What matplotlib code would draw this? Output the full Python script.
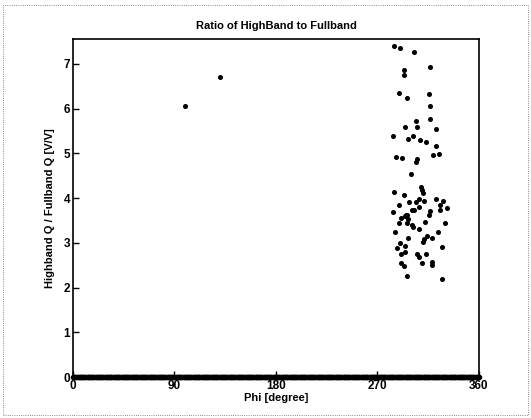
import matplotlib.pyplot as plt
from matplotlib.patches import Rectangle

# points (phi in degree, ratio in V/V)
phi_lone = [99.5, 130.0]
ratio_lone = [6.05, 6.71]

phi_cluster = [
    284.6, 289.9, 302.3, 316.2, 293.4, 293.2, 289.3, 315.3, 295.8, 316.2,
    316.5, 304.4, 294.3, 305.2, 321.8, 283.4, 297.0, 301.7, 307.9, 312.9,
    322.1, 324.5, 318.9, 286.1, 292.0, 305.2, 304.4, 299.4, 308.5, 309.1,
    310.0, 284.3, 293.7, 289.3, 297.6, 304.1, 306.5, 311.2, 322.1, 327.7,
    325.4, 331.8, 306.7, 300.5, 302.0, 316.5, 315.3, 325.6, 283.7, 295.2,
    291.0, 296.7, 294.6, 295.8, 289.3, 296.4, 300.3, 301.2, 307.0, 312.3,
    329.8, 285.5, 296.7, 311.2, 313.6, 310.6, 318.0, 323.6, 289.9, 287.0,
    294.1, 327.4, 291.0, 294.6, 304.7, 307.0, 312.9, 309.4, 318.0, 318.3,
    290.5, 293.7, 295.8, 326.9,
]
ratio_cluster = [
    7.40, 7.36, 7.26, 6.94, 6.87, 6.76, 6.36, 6.33, 6.23, 6.06,
    5.77, 5.73, 5.58, 5.59, 5.54, 5.38, 5.32, 5.38, 5.30, 5.26,
    5.16, 4.98, 4.96, 4.91, 4.89, 4.87, 4.80, 4.53, 4.24, 4.18,
    4.12, 4.14, 4.08, 3.85, 3.92, 3.92, 3.97, 3.94, 3.97, 3.94,
    3.85, 3.79, 3.81, 3.73, 3.73, 3.72, 3.63, 3.73, 3.68, 3.63,
    3.55, 3.54, 3.60, 3.62, 3.45, 3.44, 3.40, 3.35, 3.32, 3.47,
    3.44, 3.25, 3.10, 3.08, 3.15, 3.02, 3.10, 3.24, 2.99, 2.89,
    2.93, 2.91, 2.75, 2.79, 2.74, 2.69, 2.74, 2.56, 2.58, 2.51,
    2.56, 2.48, 2.26, 2.19,
]

# zero readings all along the sweep (form the thick bottom line)
phi_zero = list(range(0, 361, 1))
ratio_zero = [0.0] * len(phi_zero)

plt.rcParams['font.family'] = ['Liberation Sans', 'DejaVu Sans']

fig = plt.figure(figsize=(5.31, 4.18), dpi=100)
ax = fig.add_axes([0.1375, 0.098, 0.7645, 0.809])

ax.plot(phi_zero, ratio_zero, 'o', color='black', markersize=3.0, clip_on=False)
ax.plot(phi_lone, ratio_lone, 'o', color='black', markersize=2.6)
ax.plot(phi_cluster, ratio_cluster, 'o', color='black', markersize=2.6)

ax.set_xlim(0, 360)
ax.set_ylim(0, 7.56)
ax.set_xticks([0, 90, 180, 270, 360])
ax.set_yticks(range(8))
ax.tick_params(direction='in', length=4, width=1, labelsize=8.5, pad=2)
for lbl in ax.get_xticklabels() + ax.get_yticklabels():
    lbl.set_fontweight('bold')
for sp in ax.spines.values():
    sp.set_linewidth(1.2)

ax.set_title('Ratio of HighBand to Fullband', fontsize=8, fontweight='bold', pad=7)
ax.set_xlabel('Phi [degree]', fontsize=8, fontweight='bold', labelpad=1)
ax.set_ylabel('Highband Q / Fullband Q [V/V]', fontsize=8, fontweight='bold', labelpad=6)

# faint border of the scanned page
fig.patches.append(Rectangle((0.006, 0.007), 0.988, 0.98, transform=fig.transFigure,
                             fill=False, edgecolor='0.4', linewidth=0.6, linestyle=':'))

fig.savefig('out.png', dpi=100)
